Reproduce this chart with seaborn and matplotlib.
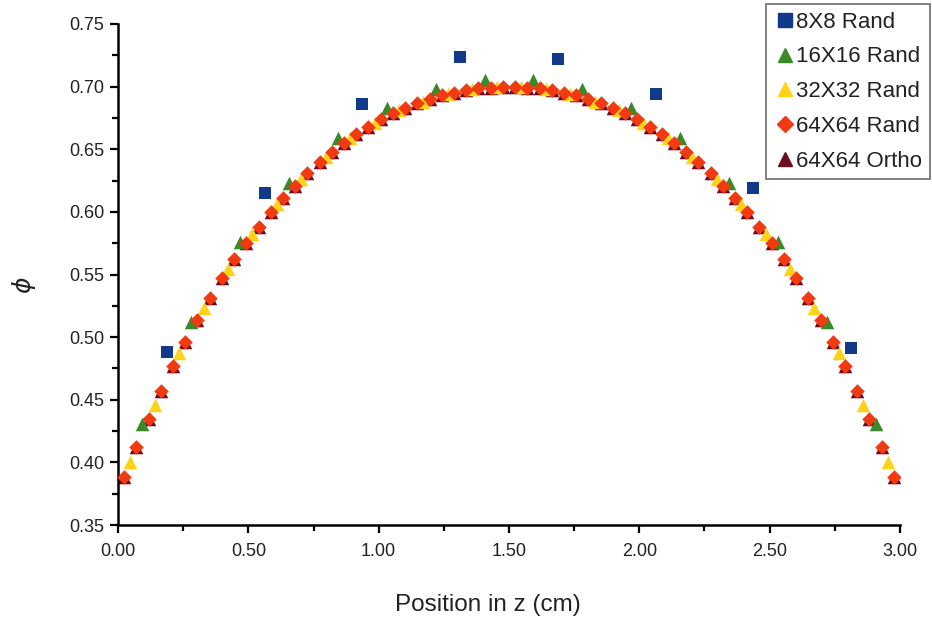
import numpy as np
import pandas as pd
import matplotlib
matplotlib.use("Agg")
import matplotlib.pyplot as plt
import seaborn as sns
from matplotlib.ticker import MultipleLocator, FormatStrFormatter
from matplotlib.lines import Line2D

sns.set_theme(style="white")
plt.rcParams['font.family'] = ['Liberation Sans', 'DejaVu Sans']

L = 3.0  # domain length (cm)

phi_8 = [0.488, 0.615, 0.686, 0.724, 0.722, 0.694, 0.619, 0.491]
phi_16 = [0.431, 0.512, 0.576, 0.623, 0.659, 0.683, 0.698, 0.705,
          0.705, 0.698, 0.683, 0.659, 0.623, 0.576, 0.512, 0.431]
phi_32 = [0.400, 0.446, 0.487, 0.523, 0.554, 0.582, 0.606, 0.626,
          0.644, 0.659, 0.671, 0.681, 0.688, 0.694, 0.698, 0.700,
          0.700, 0.698, 0.694, 0.688, 0.681, 0.671, 0.659, 0.644,
          0.626, 0.606, 0.582, 0.554, 0.523, 0.487, 0.446, 0.400]
phi_64 = [0.388, 0.412, 0.435, 0.457, 0.477, 0.496, 0.514, 0.531,
          0.547, 0.562, 0.575, 0.588, 0.600, 0.611, 0.621, 0.631,
          0.640, 0.648, 0.655, 0.662, 0.668, 0.674, 0.679, 0.683,
          0.687, 0.690, 0.693, 0.695, 0.697, 0.699, 0.699, 0.700,
          0.700, 0.699, 0.699, 0.697, 0.695, 0.693, 0.690, 0.687,
          0.683, 0.679, 0.674, 0.668, 0.662, 0.655, 0.648, 0.640,
          0.631, 0.621, 0.611, 0.600, 0.588, 0.575, 0.562, 0.547,
          0.531, 0.514, 0.496, 0.477, 0.457, 0.435, 0.412, 0.388]
phi_64o = [0.388, 0.412, 0.435, 0.457, 0.477, 0.496, 0.514, 0.531,
           0.547, 0.562, 0.575, 0.588, 0.600, 0.611, 0.621, 0.631,
           0.640, 0.648, 0.655, 0.662, 0.668, 0.674, 0.679, 0.683,
           0.687, 0.690, 0.693, 0.695, 0.697, 0.699, 0.699, 0.700,
           0.700, 0.699, 0.699, 0.697, 0.695, 0.693, 0.690, 0.687,
           0.683, 0.679, 0.674, 0.668, 0.662, 0.655, 0.648, 0.640,
           0.631, 0.621, 0.611, 0.600, 0.588, 0.575, 0.562, 0.547,
           0.531, 0.514, 0.496, 0.477, 0.457, 0.435, 0.412, 0.388]

labels = ["8X8 Rand", "16X16 Rand", "32X32 Rand", "64X64 Rand", "64X64 Ortho"]
series = [phi_8, phi_16, phi_32, phi_64, phi_64o]

def centers(n):
    return (np.arange(n) + 0.5) * L / n

fig = plt.figure(figsize=(9.32, 6.23), dpi=100)
ax = fig.add_axes([118/932, 1-525/623, (900-118)/932, (525-24)/623])

styles = {
    "64X64 Ortho": dict(marker="^", color="#6e0b22", s=95, z=2),
    "32X32 Rand": dict(marker="^", color="#ffd21a", s=95, z=3),
    "16X16 Rand": dict(marker="^", color="#3a8a2a", s=95, z=4),
    "64X64 Rand": dict(marker="D", color="#f23a12", s=55, z=5),
    "8X8 Rand": dict(marker="s", color="#123a8a", s=70, z=6),
}

for lab, vals in zip(labels, series):
    st = styles[lab]
    df = pd.DataFrame({"z": centers(len(vals)), "phi": vals})
    sns.scatterplot(data=df, x="z", y="phi", ax=ax, marker=st["marker"],
                    color=st["color"], s=st["s"], linewidth=0,
                    zorder=st["z"], label=lab, legend=False)

ax.set_xlim(0, 3.0)
ax.set_ylim(0.35, 0.75)
ax.xaxis.set_major_locator(MultipleLocator(0.5))
ax.xaxis.set_minor_locator(MultipleLocator(0.25))
ax.yaxis.set_major_locator(MultipleLocator(0.05))
ax.yaxis.set_minor_locator(MultipleLocator(0.025))
ax.xaxis.set_major_formatter(FormatStrFormatter("%.2f"))
ax.yaxis.set_major_formatter(FormatStrFormatter("%.2f"))
for s in ["top", "right"]:
    ax.spines[s].set_visible(False)
for s in ["left", "bottom"]:
    ax.spines[s].set_linewidth(1.8)
    ax.spines[s].set_color("black")
ax.tick_params(which="major", direction="out", length=6, width=1.6,
               colors="black", labelsize=13, pad=4, bottom=True, left=True)
ax.tick_params(axis="x", which="major", pad=7)
ax.tick_params(which="minor", direction="out", length=4, width=1.6,
               colors="black", bottom=True, left=True)
for t in ax.get_xticklabels() + ax.get_yticklabels():
    t.set_color("#222222")

ax.set_xlabel("Position in z (cm)", fontsize=17.5, color="#222222")
ax.xaxis.set_label_coords(0.473, -0.138)
ax.set_ylabel(r"$\phi$", fontsize=18, rotation=90, color="#222222")
ax.yaxis.set_label_coords(-0.102, 0.479)

leg_handles = []
for lab in labels:
    st = styles[lab]
    ms = 10 if st["marker"] != "D" else 8
    leg_handles.append(Line2D([], [], linestyle="none", marker=st["marker"],
                              color=st["color"], markersize=ms))
leg = fig.legend(leg_handles, labels, loc="upper right",
                 bbox_to_anchor=(0.998, 0.994), frameon=True, fancybox=False,
                 edgecolor="#555555", fontsize=16, handletextpad=0.0,
                 borderpad=0.35, labelspacing=0.62, handlelength=1.0,
                 borderaxespad=0)
leg.get_frame().set_linewidth(1.3)
for t in leg.get_texts():
    t.set_color("#222222")

fig.savefig("out.png", dpi=100)
